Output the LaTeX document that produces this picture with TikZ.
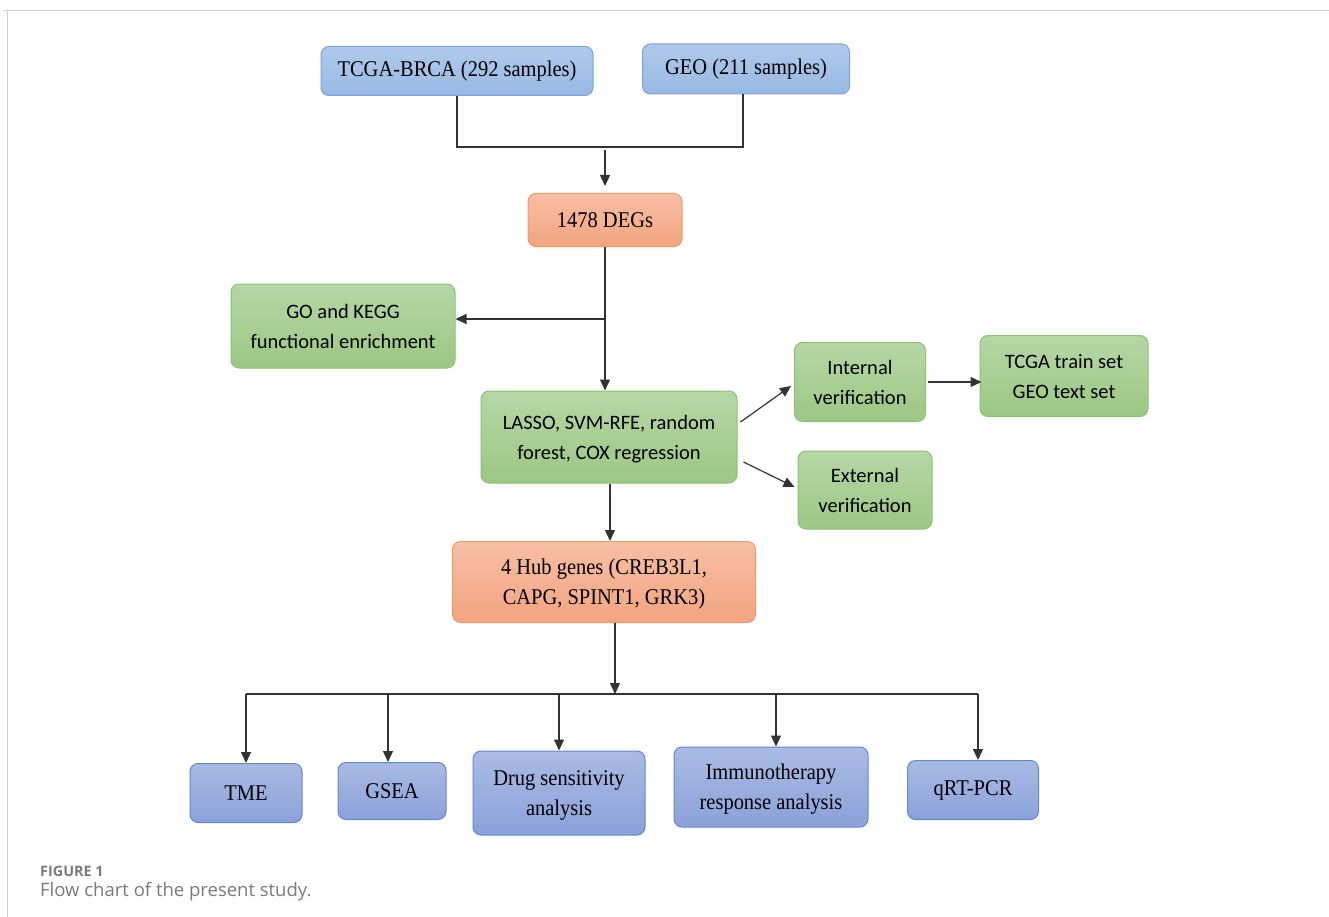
\documentclass[tikz,border=0pt]{standalone}
\usepackage{fontspec}
\setmainfont{Liberation Serif}[FakeStretch=0.91]
\newfontfamily\greenfont{Carlito}
\newfontfamily\capfont{Open Sans}
\usepackage{xcolor}
\usetikzlibrary{arrows.meta}
\definecolor{blueA}{HTML}{AFCAEB}
\definecolor{blueB}{HTML}{98B8E4}
\definecolor{blueE}{HTML}{78A4DB}
\definecolor{orangeA}{HTML}{F7BFA5}
\definecolor{orangeB}{HTML}{F3A47F}
\definecolor{orangeE}{HTML}{F29A62}
\definecolor{greenA}{HTML}{B6D7A6}
\definecolor{greenB}{HTML}{9BC783}
\definecolor{greenE}{HTML}{8DC270}
\definecolor{violetA}{HTML}{A9BBE3}
\definecolor{violetB}{HTML}{8BA1DA}
\definecolor{violetE}{HTML}{6487D4}
\definecolor{framegray}{HTML}{CFCFCF}
\definecolor{capgray}{HTML}{7A7A7A}
\tikzset{
  box/.style={rounded corners=8pt, line width=1pt, inner sep=0pt, align=center},
  twoline/.style={text depth=-3pt},
  bluebox/.style={box, draw=blueE, top color=blueA, bottom color=blueB, font=\fontsize{22.5}{30}\selectfont},
  orangebox/.style={box, draw=orangeE, top color=orangeA, bottom color=orangeB, font=\fontsize{22.5}{30}\selectfont},
  greenbox/.style={box, draw=greenE, top color=greenA, bottom color=greenB, font=\greenfont\fontsize{20.5}{30}\selectfont},
  violetbox/.style={box, draw=violetE, top color=violetA, bottom color=violetB, font=\fontsize{22.5}{30}\selectfont},
  link/.style={line width=1.2pt, black!80},
  arr/.style={link, -{Triangle[length=11pt,width=10pt]}}
}
\begin{document}
\begin{tikzpicture}[x=1pt,y=-1pt]
\useasboundingbox (0,0) rectangle (1329,917);
\draw[framegray, line width=1.5pt] (3,10.5) -- (1329,10.5);
\draw[framegray, line width=1.5pt] (7.5,10.5) -- (7.5,917);

\node[bluebox, minimum width=272pt, minimum height=49pt] (tcga) at (457,71) {TCGA-BRCA (292 samples)};
\node[bluebox, minimum width=207pt, minimum height=50pt] (geo) at (746,69) {GEO (211 samples)};
\node[orangebox, minimum width=154pt, minimum height=53pt] (degs) at (605,220) {1478 DEGs};
\node[greenbox, twoline, minimum width=224pt, minimum height=84pt] (go) at (343,326) {GO and KEGG\\functional enrichment};
\node[greenbox, twoline, minimum width=256pt, minimum height=92pt] (lasso) at (609,437) {LASSO, SVM-RFE, random\\forest, COX regression};
\node[greenbox, twoline, minimum width=131pt, minimum height=79pt] (intver) at (860,382) {Internal\\verification};
\node[greenbox, twoline, minimum width=168pt, minimum height=81pt] (trainset) at (1064,376) {TCGA train set\\GEO text set};
\node[greenbox, twoline, minimum width=134pt, minimum height=78pt] (extver) at (865,490) {External\\verification};
\node[orangebox, twoline, minimum width=303pt, minimum height=81pt] (hub) at (604,582) {4 Hub genes (CREB3L1,\\CAPG, SPINT1, GRK3)};
\node[violetbox, minimum width=112pt, minimum height=59pt] (tme) at (246,793) {TME};
\node[violetbox, minimum width=108pt, minimum height=57pt] (gsea) at (392,791) {GSEA};
\node[violetbox, twoline, minimum width=172pt, minimum height=84pt] (drug) at (559,793) {Drug sensitivity\\analysis};
\node[violetbox, twoline, minimum width=194pt, minimum height=80pt] (immuno) at (771,787) {Immunotherapy\\response analysis};
\node[violetbox, minimum width=131pt, minimum height=59pt] (qrt) at (973,790) {qRT-PCR};

\coordinate (join) at (605,147);
\coordinate (split) at (605,319);
\coordinate (bus) at (615,694);

\draw[link] (tcga.south) |- (join) -| ([xshift=-3pt]geo.south);
\draw[arr] ([yshift=-3pt]join) -- ([yshift=7pt]degs.north);
\draw[arr] (degs.south) -- (degs.south |- lasso.north);
\draw[arr] (split) -- (go.east |- split);
\draw[arr] ([shift={(3pt,15pt)}]lasso.east) -- ([shift={(-3pt,-4pt)}]intver.west);
\draw[arr] ([shift={(6pt,-25pt)}]lasso.east) -- ([shift={(-3pt,3pt)}]extver.west);
\draw[arr] ([xshift=2pt]intver.east) -- ([xshift=2pt]intver.east -| trainset.west);
\draw[arr] ([xshift=1pt]lasso.south) -- ([xshift=1pt]lasso.south |- hub.north);
\draw[arr] ([xshift=11pt]hub.south) -- (bus);
\draw[link] (tme.north |- bus) -- ([xshift=5pt]qrt.north |- bus);
\draw[arr] (tme.north |- bus) -- (tme.north);
\draw[arr] ([xshift=-4pt]gsea.north |- bus) -- ([xshift=-4pt]gsea.north);
\draw[arr] (drug.north |- bus) -- (drug.north);
\draw[arr] ([xshift=5pt]immuno.north |- bus) -- ([xshift=5pt]immuno.north);
\draw[arr] ([xshift=5pt]qrt.north |- bus) -- ([xshift=5pt]qrt.north);

\node[anchor=base west, inner sep=0pt, text=capgray, font=\capfont\bfseries\fontsize{14.4}{16}\selectfont] (figlabel) at (40,876) {FIGURE 1};
\node[anchor=base west, inner sep=0pt, text=capgray, font=\capfont\fontsize{18.5}{22}\selectfont] (figcaption) at (40,896) {Flow chart of the present study.};
\end{tikzpicture}
\end{document}
